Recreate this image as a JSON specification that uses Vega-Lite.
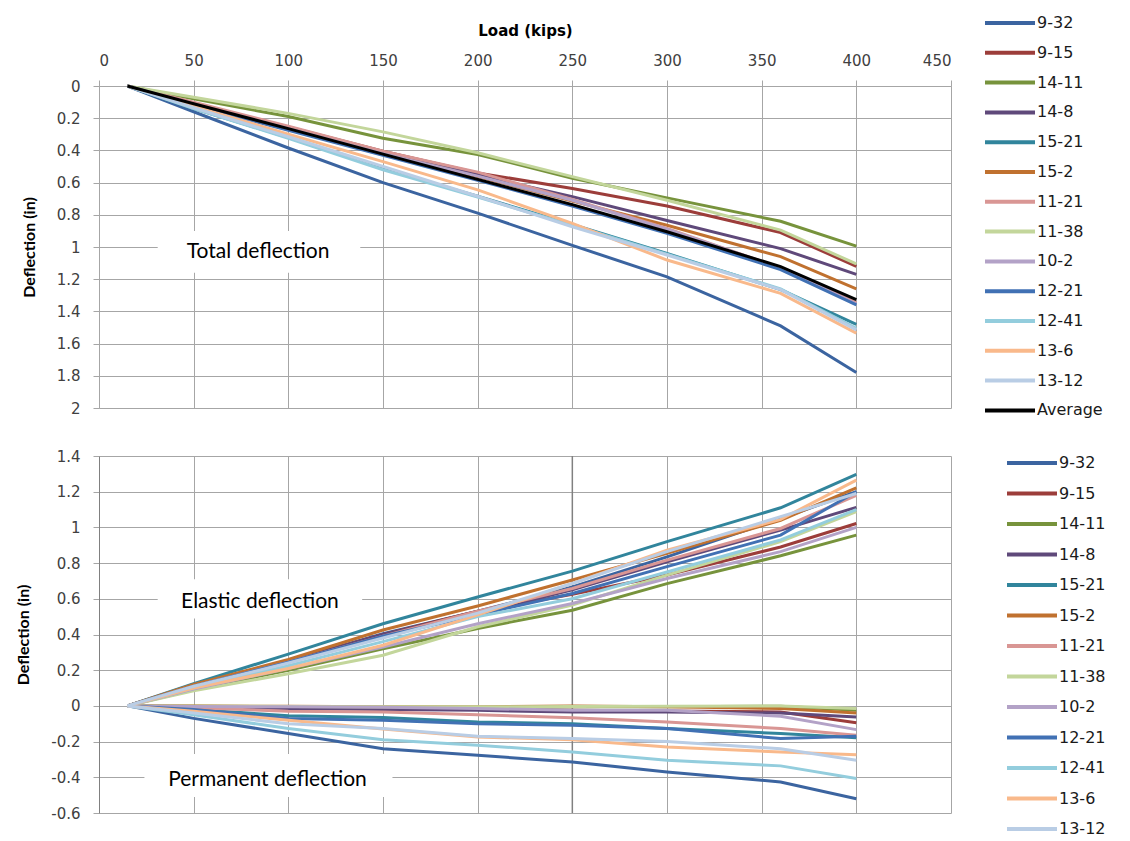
{
  "$schema": "https://vega.github.io/schema/vega-lite/v6.json",
  "background": "white",
  "padding": {"left": 15, "top": 11, "right": 5, "bottom": 5},
  "config": {
    "view": {"stroke": null},
    "axis": {
      "gridColor": "#A6A6A6", "gridWidth": 1, "domainColor": "#A6A6A6", "tickColor": "#A6A6A6",
      "tickSize": 6, "labelFont": "DejaVu Sans", "labelFontSize": 15, "labelColor": "#404040", "labelOverlap": false,
      "titleFont": "Lato", "titleFontWeight": "bold", "titleFontSize": 16, "titleColor": "#000000"
    },
    "legend": {
      "labelFont": "DejaVu Sans", "labelFontSize": 16, "labelColor": "#1a1a1a",
      "symbolType": "M-2.5,0H2.5", "symbolSize": 400, "symbolStrokeWidth": 4,
      "rowPadding": 10.5, "labelOffset": 15
    },
    "text": {"font": "Lato", "fontSize": 21, "color": "#000000"}
  },
  "datasets": {
    "total": [
      {"s":"9-32","load":15,"d":0},{"s":"9-32","load":50,"d":0.16},{"s":"9-32","load":100,"d":0.385},{"s":"9-32","load":150,"d":0.6},{"s":"9-32","load":200,"d":0.79},{"s":"9-32","load":250,"d":0.99},{"s":"9-32","load":300,"d":1.185},{"s":"9-32","load":360,"d":1.49},{"s":"9-32","load":400,"d":1.78},
      {"s":"9-15","load":15,"d":0},{"s":"9-15","load":50,"d":0.11},{"s":"9-15","load":100,"d":0.255},{"s":"9-15","load":150,"d":0.405},{"s":"9-15","load":200,"d":0.54},{"s":"9-15","load":250,"d":0.636},{"s":"9-15","load":300,"d":0.745},{"s":"9-15","load":360,"d":0.91},{"s":"9-15","load":400,"d":1.12},
      {"s":"14-11","load":15,"d":0},{"s":"14-11","load":50,"d":0.08},{"s":"14-11","load":100,"d":0.19},{"s":"14-11","load":150,"d":0.325},{"s":"14-11","load":200,"d":0.425},{"s":"14-11","load":250,"d":0.573},{"s":"14-11","load":300,"d":0.695},{"s":"14-11","load":360,"d":0.84},{"s":"14-11","load":400,"d":0.995},
      {"s":"14-8","load":15,"d":0},{"s":"14-8","load":50,"d":0.11},{"s":"14-8","load":100,"d":0.26},{"s":"14-8","load":150,"d":0.41},{"s":"14-8","load":200,"d":0.553},{"s":"14-8","load":250,"d":0.687},{"s":"14-8","load":300,"d":0.835},{"s":"14-8","load":360,"d":1.01},{"s":"14-8","load":400,"d":1.17},
      {"s":"15-21","load":15,"d":0},{"s":"15-21","load":50,"d":0.14},{"s":"15-21","load":100,"d":0.32},{"s":"15-21","load":150,"d":0.515},{"s":"15-21","load":200,"d":0.685},{"s":"15-21","load":250,"d":0.86},{"s":"15-21","load":300,"d":1.04},{"s":"15-21","load":360,"d":1.265},{"s":"15-21","load":400,"d":1.48},
      {"s":"15-2","load":15,"d":0},{"s":"15-2","load":50,"d":0.115},{"s":"15-2","load":100,"d":0.265},{"s":"15-2","load":150,"d":0.42},{"s":"15-2","load":200,"d":0.563},{"s":"15-2","load":250,"d":0.715},{"s":"15-2","load":300,"d":0.865},{"s":"15-2","load":360,"d":1.06},{"s":"15-2","load":400,"d":1.26},
      {"s":"11-21","load":15,"d":0},{"s":"11-21","load":50,"d":0.1},{"s":"11-21","load":100,"d":0.25},{"s":"11-21","load":150,"d":0.405},{"s":"11-21","load":200,"d":0.535},{"s":"11-21","load":250,"d":0.705},{"s":"11-21","load":300,"d":0.885},{"s":"11-21","load":360,"d":1.13},{"s":"11-21","load":400,"d":1.345},
      {"s":"11-38","load":15,"d":0},{"s":"11-38","load":50,"d":0.07},{"s":"11-38","load":100,"d":0.17},{"s":"11-38","load":150,"d":0.285},{"s":"11-38","load":200,"d":0.415},{"s":"11-38","load":250,"d":0.563},{"s":"11-38","load":300,"d":0.71},{"s":"11-38","load":360,"d":0.895},{"s":"11-38","load":400,"d":1.105},
      {"s":"10-2","load":15,"d":0},{"s":"10-2","load":50,"d":0.115},{"s":"10-2","load":100,"d":0.265},{"s":"10-2","load":150,"d":0.42},{"s":"10-2","load":200,"d":0.56},{"s":"10-2","load":250,"d":0.71},{"s":"10-2","load":300,"d":0.89},{"s":"10-2","load":360,"d":1.13},{"s":"10-2","load":400,"d":1.355},
      {"s":"12-21","load":15,"d":0},{"s":"12-21","load":50,"d":0.12},{"s":"12-21","load":100,"d":0.275},{"s":"12-21","load":150,"d":0.43},{"s":"12-21","load":200,"d":0.585},{"s":"12-21","load":250,"d":0.745},{"s":"12-21","load":300,"d":0.915},{"s":"12-21","load":360,"d":1.14},{"s":"12-21","load":400,"d":1.36},
      {"s":"12-41","load":15,"d":0},{"s":"12-41","load":50,"d":0.14},{"s":"12-41","load":100,"d":0.325},{"s":"12-41","load":150,"d":0.52},{"s":"12-41","load":200,"d":0.69},{"s":"12-41","load":250,"d":0.865},{"s":"12-41","load":300,"d":1.045},{"s":"12-41","load":360,"d":1.26},{"s":"12-41","load":400,"d":1.505},
      {"s":"13-6","load":15,"d":0},{"s":"13-6","load":50,"d":0.125},{"s":"13-6","load":100,"d":0.3},{"s":"13-6","load":150,"d":0.47},{"s":"13-6","load":200,"d":0.645},{"s":"13-6","load":250,"d":0.853},{"s":"13-6","load":300,"d":1.081},{"s":"13-6","load":360,"d":1.288},{"s":"13-6","load":400,"d":1.535},
      {"s":"13-12","load":15,"d":0},{"s":"13-12","load":50,"d":0.135},{"s":"13-12","load":100,"d":0.315},{"s":"13-12","load":150,"d":0.5},{"s":"13-12","load":200,"d":0.685},{"s":"13-12","load":250,"d":0.874},{"s":"13-12","load":300,"d":1.05},{"s":"13-12","load":360,"d":1.265},{"s":"13-12","load":400,"d":1.515},
      {"s":"Average","load":15,"d":0},{"s":"Average","load":50,"d":0.11},{"s":"Average","load":100,"d":0.265},{"s":"Average","load":150,"d":0.423},{"s":"Average","load":200,"d":0.58},{"s":"Average","load":250,"d":0.737},{"s":"Average","load":300,"d":0.905},{"s":"Average","load":360,"d":1.122},{"s":"Average","load":400,"d":1.327}
    ],
    "split": [
      {"s":"9-32","t":"E","load":15,"d":0},{"s":"9-32","t":"E","load":50,"d":0.115},{"s":"9-32","t":"E","load":100,"d":0.25},{"s":"9-32","t":"E","load":150,"d":0.405},{"s":"9-32","t":"E","load":200,"d":0.53},{"s":"9-32","t":"E","load":250,"d":0.667},{"s":"9-32","t":"E","load":300,"d":0.835},{"s":"9-32","t":"E","load":360,"d":1.05},{"s":"9-32","t":"E","load":400,"d":1.2},
      {"s":"9-32","t":"P","load":15,"d":0},{"s":"9-32","t":"P","load":50,"d":-0.07},{"s":"9-32","t":"P","load":100,"d":-0.155},{"s":"9-32","t":"P","load":150,"d":-0.24},{"s":"9-32","t":"P","load":200,"d":-0.277},{"s":"9-32","t":"P","load":250,"d":-0.314},{"s":"9-32","t":"P","load":300,"d":-0.37},{"s":"9-32","t":"P","load":360,"d":-0.426},{"s":"9-32","t":"P","load":400,"d":-0.52},
      {"s":"9-15","t":"E","load":15,"d":0},{"s":"9-15","t":"E","load":50,"d":0.11},{"s":"9-15","t":"E","load":100,"d":0.25},{"s":"9-15","t":"E","load":150,"d":0.4},{"s":"9-15","t":"E","load":200,"d":0.53},{"s":"9-15","t":"E","load":250,"d":0.625},{"s":"9-15","t":"E","load":300,"d":0.733},{"s":"9-15","t":"E","load":360,"d":0.89},{"s":"9-15","t":"E","load":400,"d":1.022},
      {"s":"9-15","t":"P","load":15,"d":0},{"s":"9-15","t":"P","load":50,"d":-0.005},{"s":"9-15","t":"P","load":100,"d":-0.01},{"s":"9-15","t":"P","load":150,"d":-0.015},{"s":"9-15","t":"P","load":200,"d":-0.02},{"s":"9-15","t":"P","load":250,"d":-0.024},{"s":"9-15","t":"P","load":300,"d":-0.028},{"s":"9-15","t":"P","load":360,"d":-0.034},{"s":"9-15","t":"P","load":400,"d":-0.095},
      {"s":"14-11","t":"E","load":15,"d":0},{"s":"14-11","t":"E","load":50,"d":0.09},{"s":"14-11","t":"E","load":100,"d":0.2},{"s":"14-11","t":"E","load":150,"d":0.32},{"s":"14-11","t":"E","load":200,"d":0.434},{"s":"14-11","t":"E","load":250,"d":0.536},{"s":"14-11","t":"E","load":300,"d":0.685},{"s":"14-11","t":"E","load":360,"d":0.841},{"s":"14-11","t":"E","load":400,"d":0.957},
      {"s":"14-11","t":"P","load":15,"d":0},{"s":"14-11","t":"P","load":50,"d":-0.002},{"s":"14-11","t":"P","load":100,"d":-0.005},{"s":"14-11","t":"P","load":150,"d":-0.008},{"s":"14-11","t":"P","load":200,"d":-0.01},{"s":"14-11","t":"P","load":250,"d":-0.005},{"s":"14-11","t":"P","load":300,"d":-0.005},{"s":"14-11","t":"P","load":360,"d":-0.002},{"s":"14-11","t":"P","load":400,"d":-0.024},
      {"s":"14-8","t":"E","load":15,"d":0},{"s":"14-8","t":"E","load":50,"d":0.11},{"s":"14-8","t":"E","load":100,"d":0.25},{"s":"14-8","t":"E","load":150,"d":0.4},{"s":"14-8","t":"E","load":200,"d":0.52},{"s":"14-8","t":"E","load":250,"d":0.65},{"s":"14-8","t":"E","load":300,"d":0.807},{"s":"14-8","t":"E","load":360,"d":0.985},{"s":"14-8","t":"E","load":400,"d":1.112},
      {"s":"14-8","t":"P","load":15,"d":0},{"s":"14-8","t":"P","load":50,"d":-0.008},{"s":"14-8","t":"P","load":100,"d":-0.015},{"s":"14-8","t":"P","load":150,"d":-0.02},{"s":"14-8","t":"P","load":200,"d":-0.025},{"s":"14-8","t":"P","load":250,"d":-0.034},{"s":"14-8","t":"P","load":300,"d":-0.034},{"s":"14-8","t":"P","load":360,"d":-0.04},{"s":"14-8","t":"P","load":400,"d":-0.062},
      {"s":"15-21","t":"E","load":15,"d":0},{"s":"15-21","t":"E","load":50,"d":0.125},{"s":"15-21","t":"E","load":100,"d":0.29},{"s":"15-21","t":"E","load":150,"d":0.46},{"s":"15-21","t":"E","load":200,"d":0.61},{"s":"15-21","t":"E","load":250,"d":0.755},{"s":"15-21","t":"E","load":300,"d":0.92},{"s":"15-21","t":"E","load":360,"d":1.11},{"s":"15-21","t":"E","load":400,"d":1.297},
      {"s":"15-21","t":"P","load":15,"d":0},{"s":"15-21","t":"P","load":50,"d":-0.02},{"s":"15-21","t":"P","load":100,"d":-0.055},{"s":"15-21","t":"P","load":150,"d":-0.065},{"s":"15-21","t":"P","load":200,"d":-0.09},{"s":"15-21","t":"P","load":250,"d":-0.1},{"s":"15-21","t":"P","load":300,"d":-0.127},{"s":"15-21","t":"P","load":360,"d":-0.155},{"s":"15-21","t":"P","load":400,"d":-0.178},
      {"s":"15-2","t":"E","load":15,"d":0},{"s":"15-2","t":"E","load":50,"d":0.12},{"s":"15-2","t":"E","load":100,"d":0.26},{"s":"15-2","t":"E","load":150,"d":0.425},{"s":"15-2","t":"E","load":200,"d":0.56},{"s":"15-2","t":"E","load":250,"d":0.705},{"s":"15-2","t":"E","load":300,"d":0.855},{"s":"15-2","t":"E","load":360,"d":1.04},{"s":"15-2","t":"E","load":400,"d":1.222},
      {"s":"15-2","t":"P","load":15,"d":0},{"s":"15-2","t":"P","load":50,"d":0},{"s":"15-2","t":"P","load":100,"d":-0.002},{"s":"15-2","t":"P","load":150,"d":-0.005},{"s":"15-2","t":"P","load":200,"d":-0.005},{"s":"15-2","t":"P","load":250,"d":0},{"s":"15-2","t":"P","load":300,"d":-0.005},{"s":"15-2","t":"P","load":360,"d":-0.015},{"s":"15-2","t":"P","load":400,"d":-0.04},
      {"s":"11-21","t":"E","load":15,"d":0},{"s":"11-21","t":"E","load":50,"d":0.11},{"s":"11-21","t":"E","load":100,"d":0.245},{"s":"11-21","t":"E","load":150,"d":0.39},{"s":"11-21","t":"E","load":200,"d":0.53},{"s":"11-21","t":"E","load":250,"d":0.658},{"s":"11-21","t":"E","load":300,"d":0.817},{"s":"11-21","t":"E","load":360,"d":0.994},{"s":"11-21","t":"E","load":400,"d":1.18},
      {"s":"11-21","t":"P","load":15,"d":0},{"s":"11-21","t":"P","load":50,"d":-0.01},{"s":"11-21","t":"P","load":100,"d":-0.03},{"s":"11-21","t":"P","load":150,"d":-0.034},{"s":"11-21","t":"P","load":200,"d":-0.05},{"s":"11-21","t":"P","load":250,"d":-0.067},{"s":"11-21","t":"P","load":300,"d":-0.09},{"s":"11-21","t":"P","load":360,"d":-0.127},{"s":"11-21","t":"P","load":400,"d":-0.164},
      {"s":"11-38","t":"E","load":15,"d":0},{"s":"11-38","t":"E","load":50,"d":0.085},{"s":"11-38","t":"E","load":100,"d":0.18},{"s":"11-38","t":"E","load":150,"d":0.284},{"s":"11-38","t":"E","load":200,"d":0.443},{"s":"11-38","t":"E","load":250,"d":0.565},{"s":"11-38","t":"E","load":300,"d":0.733},{"s":"11-38","t":"E","load":360,"d":0.92},{"s":"11-38","t":"E","load":400,"d":1.088},
      {"s":"11-38","t":"P","load":15,"d":0},{"s":"11-38","t":"P","load":50,"d":-0.002},{"s":"11-38","t":"P","load":100,"d":-0.003},{"s":"11-38","t":"P","load":150,"d":-0.005},{"s":"11-38","t":"P","load":200,"d":-0.005},{"s":"11-38","t":"P","load":250,"d":-0.003},{"s":"11-38","t":"P","load":300,"d":-0.002},{"s":"11-38","t":"P","load":360,"d":0},{"s":"11-38","t":"P","load":400,"d":-0.015},
      {"s":"10-2","t":"E","load":15,"d":0},{"s":"10-2","t":"E","load":50,"d":0.095},{"s":"10-2","t":"E","load":100,"d":0.21},{"s":"10-2","t":"E","load":150,"d":0.33},{"s":"10-2","t":"E","load":200,"d":0.46},{"s":"10-2","t":"E","load":250,"d":0.574},{"s":"10-2","t":"E","load":300,"d":0.714},{"s":"10-2","t":"E","load":360,"d":0.864},{"s":"10-2","t":"E","load":400,"d":1.0},
      {"s":"10-2","t":"P","load":15,"d":0},{"s":"10-2","t":"P","load":50,"d":-0.003},{"s":"10-2","t":"P","load":100,"d":-0.005},{"s":"10-2","t":"P","load":150,"d":-0.008},{"s":"10-2","t":"P","load":200,"d":-0.015},{"s":"10-2","t":"P","load":250,"d":-0.024},{"s":"10-2","t":"P","load":300,"d":-0.024},{"s":"10-2","t":"P","load":360,"d":-0.058},{"s":"10-2","t":"P","load":400,"d":-0.133},
      {"s":"12-21","t":"E","load":15,"d":0},{"s":"12-21","t":"E","load":50,"d":0.11},{"s":"12-21","t":"E","load":100,"d":0.245},{"s":"12-21","t":"E","load":150,"d":0.39},{"s":"12-21","t":"E","load":200,"d":0.51},{"s":"12-21","t":"E","load":250,"d":0.63},{"s":"12-21","t":"E","load":300,"d":0.78},{"s":"12-21","t":"E","load":360,"d":0.957},{"s":"12-21","t":"E","load":400,"d":1.2},
      {"s":"12-21","t":"P","load":15,"d":0},{"s":"12-21","t":"P","load":50,"d":-0.02},{"s":"12-21","t":"P","load":100,"d":-0.07},{"s":"12-21","t":"P","load":150,"d":-0.08},{"s":"12-21","t":"P","load":200,"d":-0.1},{"s":"12-21","t":"P","load":250,"d":-0.108},{"s":"12-21","t":"P","load":300,"d":-0.127},{"s":"12-21","t":"P","load":360,"d":-0.183},{"s":"12-21","t":"P","load":400,"d":-0.17},
      {"s":"12-41","t":"E","load":15,"d":0},{"s":"12-41","t":"E","load":50,"d":0.1},{"s":"12-41","t":"E","load":100,"d":0.225},{"s":"12-41","t":"E","load":150,"d":0.36},{"s":"12-41","t":"E","load":200,"d":0.5},{"s":"12-41","t":"E","load":250,"d":0.6},{"s":"12-41","t":"E","load":300,"d":0.75},{"s":"12-41","t":"E","load":360,"d":0.93},{"s":"12-41","t":"E","load":400,"d":1.1},
      {"s":"12-41","t":"P","load":15,"d":0},{"s":"12-41","t":"P","load":50,"d":-0.05},{"s":"12-41","t":"P","load":100,"d":-0.127},{"s":"12-41","t":"P","load":150,"d":-0.19},{"s":"12-41","t":"P","load":200,"d":-0.22},{"s":"12-41","t":"P","load":250,"d":-0.258},{"s":"12-41","t":"P","load":300,"d":-0.305},{"s":"12-41","t":"P","load":360,"d":-0.336},{"s":"12-41","t":"P","load":400,"d":-0.407},
      {"s":"13-6","t":"E","load":15,"d":0},{"s":"13-6","t":"E","load":50,"d":0.1},{"s":"13-6","t":"E","load":100,"d":0.21},{"s":"13-6","t":"E","load":150,"d":0.34},{"s":"13-6","t":"E","load":200,"d":0.51},{"s":"13-6","t":"E","load":250,"d":0.686},{"s":"13-6","t":"E","load":300,"d":0.873},{"s":"13-6","t":"E","load":360,"d":1.045},{"s":"13-6","t":"E","load":400,"d":1.265},
      {"s":"13-6","t":"P","load":15,"d":0},{"s":"13-6","t":"P","load":50,"d":-0.03},{"s":"13-6","t":"P","load":100,"d":-0.08},{"s":"13-6","t":"P","load":150,"d":-0.13},{"s":"13-6","t":"P","load":200,"d":-0.174},{"s":"13-6","t":"P","load":250,"d":-0.19},{"s":"13-6","t":"P","load":300,"d":-0.23},{"s":"13-6","t":"P","load":360,"d":-0.258},{"s":"13-6","t":"P","load":400,"d":-0.273},
      {"s":"13-12","t":"E","load":15,"d":0},{"s":"13-12","t":"E","load":50,"d":0.11},{"s":"13-12","t":"E","load":100,"d":0.24},{"s":"13-12","t":"E","load":150,"d":0.38},{"s":"13-12","t":"E","load":200,"d":0.52},{"s":"13-12","t":"E","load":250,"d":0.686},{"s":"13-12","t":"E","load":300,"d":0.864},{"s":"13-12","t":"E","load":360,"d":1.06},{"s":"13-12","t":"E","load":400,"d":1.19},
      {"s":"13-12","t":"P","load":15,"d":0},{"s":"13-12","t":"P","load":50,"d":-0.04},{"s":"13-12","t":"P","load":100,"d":-0.1},{"s":"13-12","t":"P","load":150,"d":-0.127},{"s":"13-12","t":"P","load":200,"d":-0.17},{"s":"13-12","t":"P","load":250,"d":-0.183},{"s":"13-12","t":"P","load":300,"d":-0.2},{"s":"13-12","t":"P","load":360,"d":-0.24},{"s":"13-12","t":"P","load":400,"d":-0.305}
    ]
  },
  "vconcat": [
    {
      "width": 852,
      "height": 322,
      "layer": [
        {
          "data": {"values": [{"label": "Total deflection"}]},
          "mark": {"type": "rect", "color": "white"},
          "encoding": {
            "x": {"datum": 31, "type": "quantitative"},
            "x2": {"datum": 138},
            "y": {"datum": 0.9, "type": "quantitative"},
            "y2": {"datum": 1.16}
          }
        },
        {
          "data": {"name": "total"},
          "mark": {"type": "line", "strokeWidth": 3},
          "encoding": {
            "x": {
              "field": "load", "type": "quantitative",
              "scale": {"domain": [0, 450], "nice": false},
              "axis": {"orient": "top", "title": "Load (kips)", "titleFont": "DejaVu Sans", "titleFontSize": 15,
                "values": [0, 50, 100, 150, 200, 250, 300, 350, 400, 450], "tickCount": 20, "grid": true,
                "labelPadding": 12, "titlePadding": 15}
            },
            "y": {
              "field": "d", "type": "quantitative",
              "scale": {"domain": [0, 2], "reverse": true, "nice": false},
              "axis": {"title": "Deflection (in)", "values": [0, 0.2, 0.4, 0.6, 0.8, 1, 1.2, 1.4, 1.6, 1.8, 2], "tickCount": 20,
                "grid": true, "labelPadding": 13, "titlePadding": 19,
                "labelExpr": "datum.value < 0 ? '-' + format(-datum.value, '~g') : format(datum.value, '~g')"}
            },
            "color": {
              "field": "s", "type": "nominal", "sort": null,
              "scale": {
                "domain": ["9-32", "9-15", "14-11", "14-8", "15-21", "15-2", "11-21", "11-38", "10-2", "12-21", "12-41", "13-6", "13-12", "Average"],
                "range": ["#3B64A0", "#9C3D3A", "#77933C", "#5F497A", "#31859C", "#C0712F", "#D99694", "#C3D69B", "#B3A2C7", "#4171B4", "#93CDDD", "#F9B98B", "#B9CDE5", "#000000"]
              },
              "legend": {"title": null, "orient": "none", "legendX": 899, "legendY": -75, "rowPadding": 9.8}
            }
          }
        },
        {
          "data": {"values": [{"label": "Total deflection"}]},
          "mark": {"type": "text"},
          "encoding": {
            "x": {"datum": 84, "type": "quantitative"},
            "y": {"datum": 1.03, "type": "quantitative"},
            "text": {"field": "label"}
          }
        }
      ]
    },
    {
      "width": 852,
      "height": 357,
      "layer": [
        {
          "data": {"values": [{"label": "Elastic deflection"}]},
          "mark": {"type": "rule", "color": "#808080", "strokeWidth": 1.5},
          "encoding": {"x": {"datum": 250, "type": "quantitative"}}
        },
        {
          "data": {"values": [{"label": "Elastic deflection"}]},
          "mark": {"type": "rect", "color": "white"},
          "encoding": {
            "x": {"datum": 31, "type": "quantitative"},
            "x2": {"datum": 139},
            "y": {"datum": 0.49, "type": "quantitative"},
            "y2": {"datum": 0.71}
          }
        },
        {
          "data": {"values": [{"label": "Permanent deflection"}]},
          "mark": {"type": "rect", "color": "white"},
          "encoding": {
            "x": {"datum": 24, "type": "quantitative"},
            "x2": {"datum": 155},
            "y": {"datum": -0.27, "type": "quantitative"},
            "y2": {"datum": -0.51}
          }
        },
        {
          "data": {"name": "split"},
          "mark": {"type": "line", "strokeWidth": 3},
          "encoding": {
            "x": {
              "field": "load", "type": "quantitative",
              "scale": {"domain": [0, 450], "nice": false},
              "axis": {"title": null, "labels": false, "ticks": false, "domain": false, "grid": true, "tickCount": 20,
                "values": [0, 50, 100, 150, 200, 250, 300, 350, 400, 450]}
            },
            "y": {
              "field": "d", "type": "quantitative",
              "scale": {"domain": [-0.6, 1.4], "nice": false},
              "axis": {"title": "Deflection (in)", "values": [-0.6, -0.4, -0.2, 0, 0.2, 0.4, 0.6, 0.8, 1, 1.2, 1.4], "tickCount": 20,
                "grid": true, "labelPadding": 13, "titlePadding": 19, "domainColor": "#808080",
                "labelExpr": "datum.value < 0 ? '-' + format(-datum.value, '~g') : format(datum.value, '~g')"}
            },
            "detail": {"field": "t"},
            "color": {
              "field": "s", "type": "nominal", "sort": null,
              "scale": {
                "domain": ["9-32", "9-15", "14-11", "14-8", "15-21", "15-2", "11-21", "11-38", "10-2", "12-21", "12-41", "13-6", "13-12"],
                "range": ["#3B64A0", "#9C3D3A", "#77933C", "#5F497A", "#31859C", "#C0712F", "#D99694", "#C3D69B", "#B3A2C7", "#4171B4", "#93CDDD", "#F9B98B", "#B9CDE5"]
              },
              "legend": {"title": null, "orient": "none", "legendX": 921, "legendY": -5}
            }
          }
        },
        {
          "data": {"values": [{"label": "Elastic deflection"}]},
          "mark": {"type": "text"},
          "encoding": {
            "x": {"datum": 85, "type": "quantitative"},
            "y": {"datum": 0.58, "type": "quantitative"},
            "text": {"field": "label"}
          }
        },
        {
          "data": {"values": [{"label": "Permanent deflection"}]},
          "mark": {"type": "text"},
          "encoding": {
            "x": {"datum": 89, "type": "quantitative"},
            "y": {"datum": -0.413, "type": "quantitative"},
            "text": {"field": "label"}
          }
        }
      ]
    }
  ],
  "spacing": 48,
  "bounds": "flush",
  "resolve": {
    "scale": {"color": "independent", "x": "independent", "y": "independent"},
    "legend": {"color": "independent"}
  }
}
